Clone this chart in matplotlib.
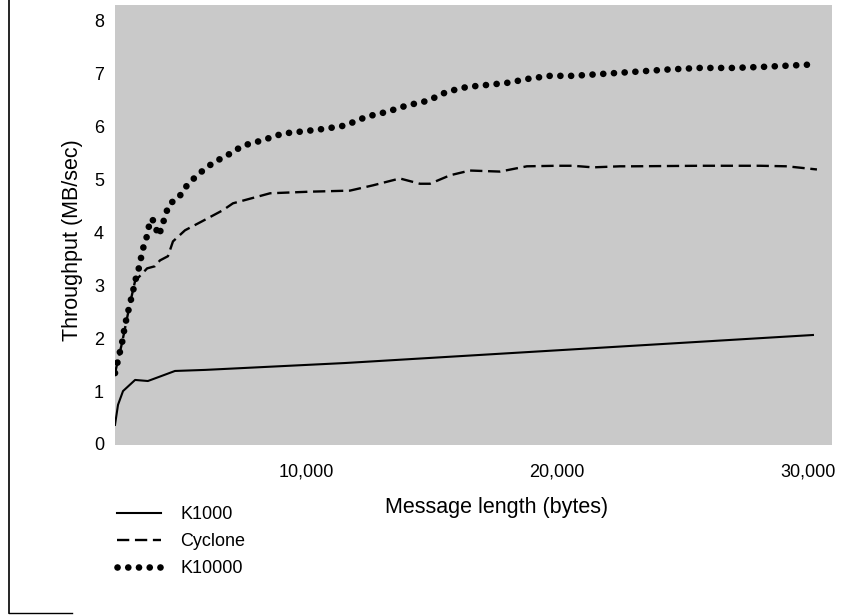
import matplotlib
matplotlib.use("Agg")
import matplotlib.pyplot as plt
from matplotlib.lines import Line2D

plt.rcParams['font.family'] = ['Liberation Sans', 'DejaVu Sans']

# message length (bytes) and throughput (MB/sec)
k1000_x = [2390, 2510, 2710, 3190, 3700, 4100, 4780, 5980, 11550, 30200]
k1000_y = [0.36, 0.74, 1.00, 1.21, 1.19, 1.26, 1.38, 1.40, 1.53, 2.06]

cyclone_x = [2390, 2670, 2990, 3190, 3670, 3980, 4180, 4500, 4700, 5180, 5860,
             6690, 7090, 8570, 10160, 11750, 12670, 13740, 14540, 14940, 15740,
             16530, 17730, 18800, 20000, 20640, 21430, 22510, 23030, 25700,
             28090, 29160, 30360]
cyclone_y = [1.34, 1.91, 2.66, 3.08, 3.32, 3.36, 3.47, 3.55, 3.83, 4.04, 4.21,
             4.42, 4.55, 4.74, 4.77, 4.79, 4.89, 5.02, 4.92, 4.92, 5.08,
             5.17, 5.15, 5.25, 5.26, 5.26, 5.23, 5.25, 5.25, 5.26,
             5.26, 5.25, 5.19]

k10000_x = [2390, 2670, 2790, 2990, 3110, 3190, 3310, 3510, 3670, 3780, 3860,
            3980, 4100, 4260, 4380, 4580, 4900, 5260, 5660, 6000, 6370, 6770,
            7490, 8250, 9080, 9880, 10760, 11550, 12430, 13230, 14020, 14860,
            15620, 16410, 17250, 18050, 18920, 19720, 20640, 21910, 23190,
            24420, 25700, 27010, 28210, 29960]
k10000_y = [1.34, 1.91, 2.25, 2.66, 2.89, 3.08, 3.26, 3.70, 3.94, 4.21, 4.26,
            4.17, 3.94, 4.08, 4.32, 4.55, 4.64, 4.89, 5.08, 5.21, 5.34, 5.43,
            5.64, 5.74, 5.87, 5.91, 5.96, 6.02, 6.19, 6.28, 6.40, 6.49,
            6.66, 6.75, 6.79, 6.83, 6.91, 6.96, 6.96, 7.00, 7.04,
            7.08, 7.11, 7.11, 7.13, 7.17]

x_ticks = [10000, 20000, 30000]
x_labels = ['10,000', '20,000', '30,000']
y_ticks = [0, 1, 2, 3, 4, 5, 6, 7, 8]

fig = plt.figure(figsize=(8.46, 6.15), dpi=100)
ax = fig.add_axes([115/846, 1 - 445/615, (832 - 115)/846, (445 - 5)/615])
ax.set_facecolor('#c9c9c9')
for s in ax.spines.values():
    s.set_visible(False)

l1, = ax.plot(k1000_x, k1000_y, color='black', lw=1.5)
l2, = ax.plot(cyclone_x, cyclone_y, color='black', lw=1.7, linestyle=(0, (5.2, 2.4)))
l3, = ax.plot(k10000_x, k10000_y, color='black', lw=4.8,
              linestyle=(0, (0.01, 1.6)), dash_capstyle='round')

ax.set_xlim(2390, 30960)
ax.set_ylim(-0.02, 8.3)
ax.set_xticks(x_ticks)
ax.set_xticklabels(x_labels)
ax.set_yticks(y_ticks)
ax.tick_params(length=0, labelsize=13)
ax.tick_params(axis='y', pad=8)
ax.tick_params(axis='x', pad=13)

fig.text(72/846, 1 - 240/615, 'Throughput (MB/sec)', fontsize=15.5,
         rotation=90, ha='center', va='center')
fig.text(497/846, 1 - 508/615, 'Message length (bytes)', fontsize=15.5,
         ha='center', va='center')

# legend drawn at the lower left, below the axis
leg = fig.legend([l1, l2, l3], ['K1000', 'Cyclone', 'K10000'],
                 loc='upper left', bbox_to_anchor=(110/846, 1 - 499/615),
                 frameon=False, fontsize=13, handlelength=2.4,
                 handletextpad=1.1, labelspacing=0.55, borderaxespad=0)

# page border remnants at left
fig.add_artist(Line2D([9/846, 9/846], [1 - 613/615, 1.0], color='black', lw=1.2))
fig.add_artist(Line2D([9/846, 72/846], [1 - 613/615, 1 - 613/615], color='black', lw=1.0))

fig.savefig('out.png', dpi=100)
